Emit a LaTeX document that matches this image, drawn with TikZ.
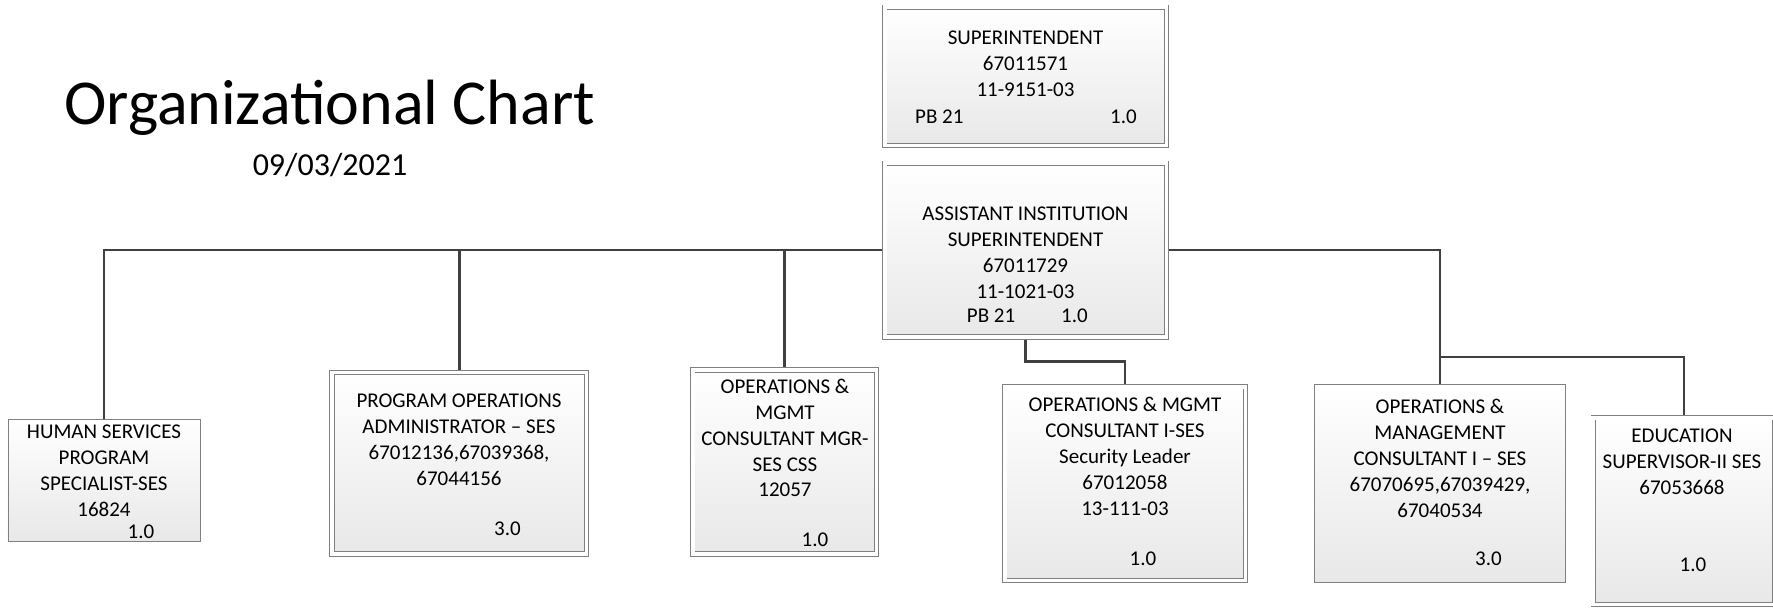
\documentclass[tikz,border=0pt]{standalone}
\usepackage{fontspec}
\setmainfont{Carlito}
\usetikzlibrary{backgrounds}
\definecolor{boxline}{RGB}{128,128,128}
\definecolor{linkgray}{RGB}{64,64,64}
\definecolor{shadebot}{RGB}{232,232,232}
\begin{document}
\begin{tikzpicture}[x=1pt,y=-1pt,
  posbox/.style={rectangle, inner sep=0pt, draw=boxline, line width=0.9pt,
    top color=white, bottom color=shadebot},
  dbox/.style={posbox, double=white, double distance=3.6pt},
  txt/.style={align=center, inner sep=0pt, text=black,
    font=\fontsize{21}{25.8}\selectfont},
  link/.style={draw=linkgray, line width=2.6pt}
]
\useasboundingbox (0,0) rectangle (1773,608);

% title block
\node[anchor=base west, inner sep=0pt, font=\fontsize{64}{70}\selectfont] (title) at (64,124) {Organizational Chart};
\node[anchor=base, inner sep=0pt, font=\fontsize{32}{36}\selectfont] (date) at (330,175) {09/03/2021};

% position boxes
\node[dbox, minimum width=281.6pt, minimum height=138.1pt] (sup)  at (1025.5,76.25) {};
\node[dbox, minimum width=281.6pt, minimum height=173.6pt] (asst) at (1025.5,250) {};
\node[posbox, minimum width=192.1pt, minimum height=122.1pt] (hs) at (104,480.5) {};
\node[dbox, minimum width=254.6pt, minimum height=181.3pt] (poa) at (459.3,463.3) {};
\node[dbox, minimum width=183.9pt, minimum height=184pt] (mgr) at (784.7,462) {};
\node[dbox, minimum width=240.6pt, minimum height=193.6pt] (sec) at (1125,483.5) {};
\node[posbox, minimum width=251.1pt, minimum height=198.1pt] (oma) at (1440,483.5) {};
\node[dbox, minimum width=181.6pt, minimum height=186.6pt] (edu) at (1684,511) {};

% reporting lines
\coordinate (fork) at (1440,357);
\begin{scope}[on background layer]
  \draw[link] (asst.west) -| (hs.north);
  \draw[link] (asst.west) -| (poa.north);
  \draw[link] (asst.west) -| (mgr.north);
  \draw[link] (asst.east) -| (oma.north);
  \draw[link] (fork) -| (edu.north);
  \draw[link] (asst.south) -- ++(0,24) -| (sec.north);
\end{scope}

% box texts
\node[txt, anchor=north] (supT) at (1025.5,26.5) {\strut SUPERINTENDENT\\67011571\\11-9151-03};
\node[txt, anchor=base west] (supPB) at (915,123.8) {PB 21};
\node[txt, anchor=base east] (supF) at (1137,123.8) {1.0};

\node[txt, anchor=north] (asstT) at (1025.5,202.5) {\strut ASSISTANT INSTITUTION\\SUPERINTENDENT\\67011729\\11-1021-03};
\node[txt, anchor=base west] (asstPB) at (966.7,322.4) {PB 21};
\node[txt, anchor=base east] (asstF) at (1088,322.4) {1.0};

\node[txt, anchor=north] (hsT) at (104,420.4) {\strut HUMAN SERVICES\\PROGRAM\\SPECIALIST-SES\\16824};
\node[txt, anchor=base] (hsF) at (141,538.8) {1.0};

\node[txt, anchor=north] (poaT) at (459,389.4) {\strut PROGRAM OPERATIONS\\ADMINISTRATOR – SES\\67012136,67039368,\\67044156};
\node[txt, anchor=base] (poaF) at (507.5,535.1) {3.0};

\node[txt, anchor=north] (mgrT) at (785,375.4) {\strut OPERATIONS \&\\MGMT\\CONSULTANT MGR-\\SES CSS\\12057};
\node[txt, anchor=base] (mgrF) at (815,546.8) {1.0};

\node[txt, anchor=north] (secT) at (1125,393.7) {\strut OPERATIONS \& MGMT\\CONSULTANT I-SES\\Security Leader\\67012058\\13-111-03};
\node[txt, anchor=base] (secF) at (1143,565) {1.0};

\node[txt, anchor=north] (omaT) at (1440,395.7) {\strut OPERATIONS \&\\MANAGEMENT\\CONSULTANT I – SES\\67070695,67039429,\\67040534};
\node[txt, anchor=base] (omaF) at (1488.5,565.8) {3.0};

\node[txt, anchor=north] (eduT) at (1682,424.7) {\strut EDUCATION\\SUPERVISOR-II SES\\67053668};
\node[txt, anchor=base] (eduF) at (1693,571.8) {1.0};
\end{tikzpicture}
\end{document}
